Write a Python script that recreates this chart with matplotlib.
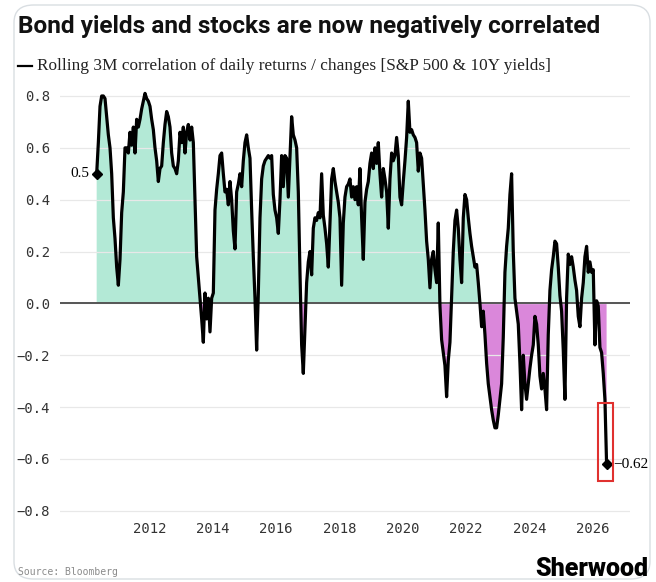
import numpy as np
import pandas as pd
import matplotlib
matplotlib.use('Agg')
import matplotlib.pyplot as plt
from matplotlib.lines import Line2D
from matplotlib.patches import FancyBboxPatch, Rectangle
from matplotlib.ticker import FuncFormatter
import matplotlib.dates as mdates

# rolling 3M correlation (roughly every 3 weeks)
corr = [
    # 2010 - 2011
    0.50, 0.62, 0.76, 0.80, 0.80, 0.79, 0.72, 0.65, 0.60, 0.50,
    0.33, 0.25, 0.14, 0.07, 0.17, 0.35, 0.43, 0.60, 0.60, 0.58,
    0.66, 0.61, 0.68, 0.58, 0.71, 0.68, 0.71, 0.75, 0.78, 0.81,
    0.79, 0.78, 0.76, 0.71, 0.67, 0.60, 0.55, 0.47, 0.52, 0.53,
    0.62, 0.69, 0.74, 0.72, 0.68, 0.58, 0.53, 0.52, 0.50, 0.55,
    # 2013 - 2015
    0.66, 0.62, 0.68, 0.58, 0.66, 0.69, 0.63, 0.68, 0.62, 0.40,
    0.18, 0.10, 0.02, -0.06, -0.15, 0.04, -0.06, 0.02, -0.11, 0.02,
    0.04, 0.36, 0.44, 0.50, 0.57, 0.58, 0.50, 0.43, 0.44, 0.38,
    0.47, 0.40, 0.28, 0.21, 0.43, 0.46, 0.50, 0.45, 0.55, 0.62,
    0.65, 0.60, 0.56, 0.36, 0.18, 0.02, -0.18, 0.04, 0.33, 0.48,
    0.53, 0.55, 0.56, 0.57,
    # 2016 - 2018
    0.56, 0.57, 0.42, 0.36, 0.33, 0.27, 0.40, 0.57, 0.45, 0.57,
    0.56, 0.41, 0.57, 0.72, 0.65, 0.63, 0.60, 0.43, 0.12, -0.16,
    -0.27, -0.09, 0.08, 0.16, 0.20, 0.11, 0.29, 0.33, 0.32, 0.35,
    0.33, 0.50, 0.34, 0.29, 0.23, 0.14, 0.31, 0.48, 0.52, 0.47,
    0.43, 0.39, 0.33, 0.07, 0.31, 0.41, 0.45, 0.46, 0.48, 0.41,
    0.45, 0.40, 0.45, 0.38,
    # 2019 - 2021
    0.52, 0.33, 0.17, 0.39, 0.44, 0.47, 0.54, 0.58, 0.52, 0.60,
    0.54, 0.62, 0.50, 0.41, 0.52, 0.48, 0.43, 0.29, 0.48, 0.58,
    0.55, 0.57, 0.64, 0.57, 0.41, 0.38, 0.47, 0.55, 0.64, 0.78,
    0.66, 0.67, 0.65, 0.64, 0.62, 0.51, 0.58, 0.56, 0.46, 0.36,
    0.24, 0.17, 0.06, 0.17, 0.20, 0.13, 0.08, 0.31, -0.01, -0.14,
    -0.19, -0.24, -0.36, -0.22,
    # 2022 - 2024
    -0.15, 0.02, 0.20, 0.32, 0.36, 0.29, 0.17, 0.08, 0.33, 0.42,
    0.40, 0.33, 0.27, 0.22, 0.18, 0.14, 0.15, 0.08, 0.00, -0.09,
    -0.03, -0.12, -0.23, -0.31, -0.36, -0.41, -0.45, -0.48, -0.48, -0.43,
    -0.37, -0.31, -0.13, 0.12, 0.22, 0.29, 0.42, 0.50, 0.20, 0.02,
    -0.03, -0.08, -0.23, -0.41, -0.20, -0.31, -0.37, -0.31, -0.25, -0.20,
    -0.16, -0.05, -0.08, -0.16,
    # 2024 - 2026
    -0.28, -0.33, -0.27, -0.33, -0.41, -0.12, 0.05, 0.13, 0.18, 0.24,
    0.23, 0.14, 0.03, -0.03, -0.18, -0.37, 0.02, 0.19, 0.15, 0.18,
    0.14, 0.09, 0.05, -0.05, -0.09, 0.02, 0.08, 0.18, 0.22, 0.12,
    0.16, 0.12, 0.13, -0.16, 0.01, -0.01, -0.17, -0.19, -0.27, -0.37,
    -0.62,
]
dates = pd.date_range('2010-05-04', '2026-06-10', periods=len(corr))

year_ticks = [2012, 2014, 2016, 2018, 2020, 2022, 2024, 2026]
y_ticks = [-0.8, -0.6, -0.4, -0.2, 0.0, 0.2, 0.4, 0.6, 0.8]

title = 'Bond yields and stocks are now negatively correlated'
subtitle = 'Rolling 3M correlation of daily returns / changes [S&P 500 & 10Y yields]'

green = '#b3e9d6'
pink = '#da87da'

W, H = 656, 582
fig = plt.figure(figsize=(W / 100, H / 100), dpi=100)

# card border
fig.patches.append(FancyBboxPatch((14 / W, 3 / H), 636 / W, 574 / H,
                                  boxstyle='round,pad=0,rounding_size=0.03',
                                  transform=fig.transFigure, fc='none',
                                  ec='#d9dee2', lw=1.0, zorder=-1))

ax = fig.add_axes([60 / W, 1 - 516 / H, 570 / W, 433 / H])
ax.set_facecolor('none')

v = np.array(corr)
ax.fill_between(dates, v, 0, where=v >= 0, interpolate=True, color=green, lw=0, zorder=1)
ax.fill_between(dates, v, 0, where=v <= 0, interpolate=True, color=pink, lw=0, zorder=1)
ax.axhline(0, color='#555555', lw=1.4, zorder=2)
ax.plot(dates, v, color='black', lw=2.3, zorder=3)

# start / end markers
ax.plot([dates[0], dates[-1]], [v[0], v[-1]], ls='none', marker='D', ms=5,
        color='black', zorder=4)
ax.annotate('0.5', (dates[0], v[0]), xytext=(-5, 0), textcoords='offset points',
            ha='right', va='center', family='Liberation Serif', fontsize=11)
ax.annotate('\u22120.62', (dates[-1], v[-1]), xytext=(5, 0), textcoords='offset points',
            ha='left', va='center', family='Liberation Serif', fontsize=11,
            annotation_clip=False)

# red highlight box
x0 = mdates.date2num(pd.Timestamp('2026-03-03'))
x1 = mdates.date2num(pd.Timestamp('2026-08-22'))
ax.add_patch(Rectangle((x0, -0.684), x1 - x0, 0.30, fill=False,
                       ec='#e0312f', lw=1.5, zorder=5, clip_on=False))

ax.set_xlim(pd.Timestamp('2009-03-07'), pd.Timestamp('2027-03-07'))
ax.set_ylim(-0.82, 0.85)
ax.set_xticks([pd.Timestamp(f'{y}-01-01') for y in year_ticks])
ax.set_xticklabels([str(y) for y in year_ticks])
ax.set_yticks(y_ticks)
ax.yaxis.set_major_formatter(FuncFormatter(lambda t, p: f'{t:.1f}'.replace('-', '\u2212')))
ax.grid(axis='y', color='#e8e8e8', lw=0.9, zorder=0)
ax.tick_params(length=0, labelsize=10, labelcolor='#333333', pad=7)
ax.tick_params(axis='x', pad=4)
for lab in ax.get_xticklabels() + ax.get_yticklabels():
    lab.set_family('DejaVu Sans Mono')
for s in ax.spines.values():
    s.set_visible(False)

# headings
fig.text(18 / W, 1 - 26 / H, title, family='Roboto', weight='bold', fontsize=17.6,
         va='center', ha='left', color='#111111')
fig.add_artist(Line2D([18 / W, 32 / W], [1 - 66 / H, 1 - 66 / H],
                      transform=fig.transFigure, color='black', lw=1.6))
fig.text(37 / W, 1 - 66 / H, subtitle, family='Liberation Serif', fontsize=12.4,
         va='center', ha='left', color='#222222')

# footer
fig.text(18 / W, 1 - 572 / H, 'Source: Bloomberg', family='DejaVu Sans Mono',
         fontsize=7, color='#8a8a8a', va='center', ha='left')
fig.text(648 / W, 1 - 569 / H, 'Sherwood', family='Roboto', weight='heavy',
         fontsize=18, color='black', va='center', ha='right')

fig.savefig('out.png', dpi=100)
